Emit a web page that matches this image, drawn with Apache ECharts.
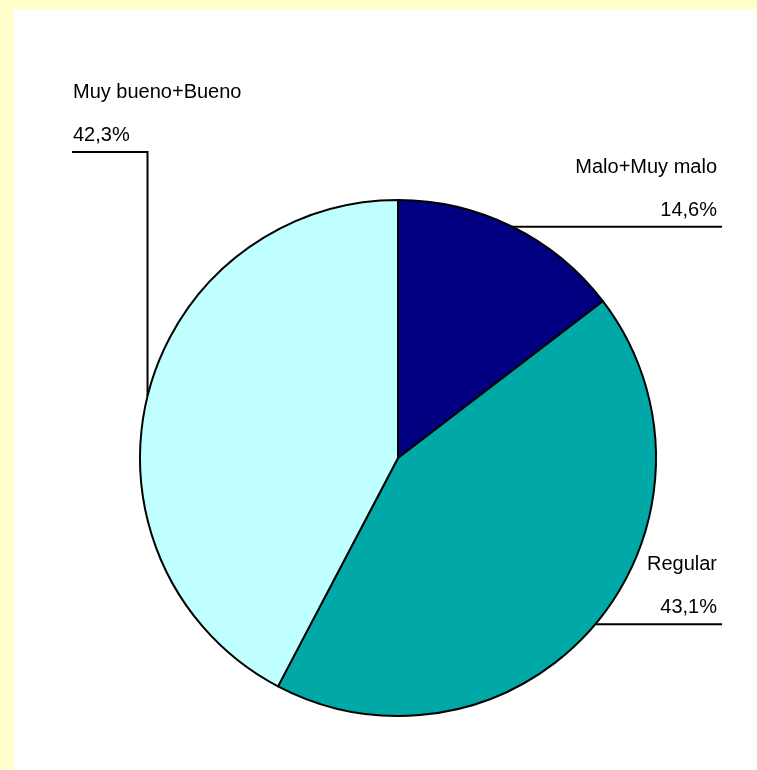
<!DOCTYPE html>
<html>
<head>
<meta charset="utf-8">
<script src="https://cdn.jsdelivr.net/npm/echarts@6/dist/echarts.min.js"></script>
<style>
  html, body { margin: 0; padding: 0; background: #FFFFCC; }
  #chart { width: 757px; height: 770px; }
</style>
</head>
<body>
<div id="chart"></div>
<script>
// Opinion shares, in percent, in clockwise order from 12 o'clock
const categories = ['Malo+Muy malo', 'Regular', 'Muy bueno+Bueno'];
const shares = [14.6, 43.1, 42.3];
const sliceColors = ['#000080', '#00A8A8', '#C0FFFF'];

const fmtPct = v => v.toFixed(1).replace('.', ',') + '%';

const chart = echarts.init(document.getElementById('chart'), null, { renderer: 'canvas' });

const LINE_RIGHT = 722;   // right end of the right-hand leader lines
const LEFT_LINE_Y = 152;  // height of the left-hand leader shelf
const LEFT_LINE_X = 72;   // left end of that shelf
const TEXT_DROP = 5;      // text bottom sits slightly below the shelf (descender space)

chart.setOption({
  backgroundColor: '#FFFFCC',
  animation: false,
  graphic: [{
    type: 'rect',
    left: 14, top: 9,
    shape: { width: 743, height: 761 },
    style: { fill: '#FFFFFF' },
    z: -10
  }],
  series: [{
    type: 'pie',
    center: [398, 458],
    radius: 258,
    startAngle: 90,
    clockwise: true,
    avoidLabelOverlap: false,
    data: categories.map((c, i) => ({
      name: c,
      value: shares[i],
      itemStyle: { color: sliceColors[i] }
    })),
    itemStyle: { borderColor: '#000000', borderWidth: 2 },
    label: {
      show: true,
      color: '#000000',
      fontFamily: 'Liberation Sans, Arial, sans-serif',
      fontSize: 20,
      lineHeight: 43,
      formatter: p => p.name + '\n' + fmtPct(p.value)
    },
    labelLine: {
      show: true,
      length: 10,
      length2: 10,
      lineStyle: { color: '#000000', width: 2 }
    },
    emphasis: { disabled: true },
    labelLayout: function (params) {
      const a = params.labelLinePoints[0];
      if (a[0] > 398) {
        // right side: horizontal shelf out to the right, text right-aligned above it
        return {
          x: LINE_RIGHT - 5,
          y: a[1] + TEXT_DROP,
          align: 'right',
          verticalAlign: 'bottom',
          labelLinePoints: [[a[0], a[1]], [(a[0] + LINE_RIGHT) / 2, a[1]], [LINE_RIGHT, a[1]]]
        };
      }
      // left side: vertical rise to a shelf, text left-aligned above it
      return {
        x: LEFT_LINE_X + 1,
        y: LEFT_LINE_Y + TEXT_DROP,
        align: 'left',
        verticalAlign: 'bottom',
        labelLinePoints: [[a[0], a[1]], [a[0], LEFT_LINE_Y], [LEFT_LINE_X, LEFT_LINE_Y]]
      };
    }
  }]
});
</script>
</body>
</html>
